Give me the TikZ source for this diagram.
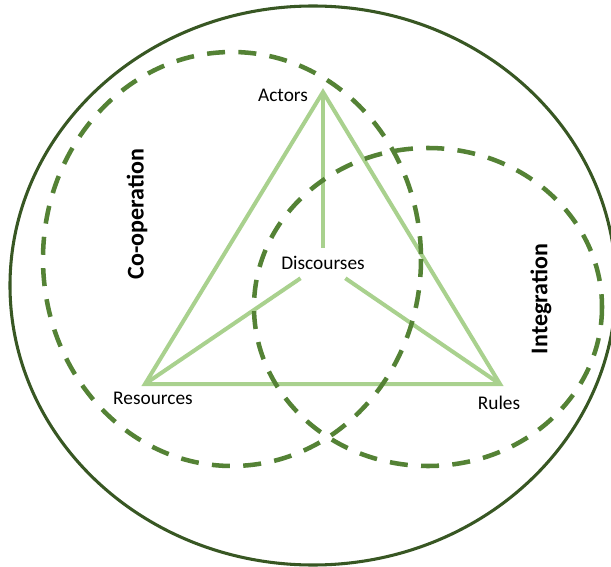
\documentclass[tikz,border=0pt]{standalone}
\usepackage{fontspec}
\setmainfont{Carlito}
\definecolor{outergreen}{HTML}{385723}
\definecolor{dashgreen}{HTML}{548235}
\definecolor{trigreen}{HTML}{A9D18E}
\begin{document}
\begin{tikzpicture}[x=0.75pt, y=-0.75pt,
  lbl/.style={font=\fontsize{14.5}{16}\selectfont, inner sep=0pt},
  ttl/.style={font=\fontsize{18}{20}\selectfont\bfseries, rotate=90, inner sep=0pt},
  ring/.style={draw=dashgreen, line width=3.4pt, dash pattern=on 13.5pt off 10pt},
  side/.style={draw=trigreen, line width=3pt}]
\useasboundingbox (0,0) rectangle (611,567);
% triangle
\coordinate (actors) at (323,92);
\coordinate (resources) at (145,384);
\coordinate (rules) at (500,384);
\node[lbl, minimum height=22.5pt, inner xsep=0pt] (disc) at (323,263) {Discourses};
\draw[side] (actors) -- (resources) -- (rules) -- cycle;
\draw[side] (actors) -- (disc);
\draw[side] (disc) -- (resources);
\draw[side] (disc) -- (rules);
% circles
\draw[ring] (232,259) ellipse [x radius=189, y radius=207];
\draw[ring] (428,307) ellipse [x radius=174, y radius=159];
\draw[outergreen, line width=2.3pt] (313,285.5) ellipse [x radius=303, y radius=279.5];
% labels
\node[lbl] (actorslbl) at (283,95) {Actors};
\node[lbl] (reslbl) at (153,398) {Resources};
\node[lbl] (ruleslbl) at (499,403) {Rules};
\node[ttl] (coop) at (137,214) {Co-operation};
\node[ttl] (integ) at (541,299) {Integration};
\end{tikzpicture}
\end{document}
